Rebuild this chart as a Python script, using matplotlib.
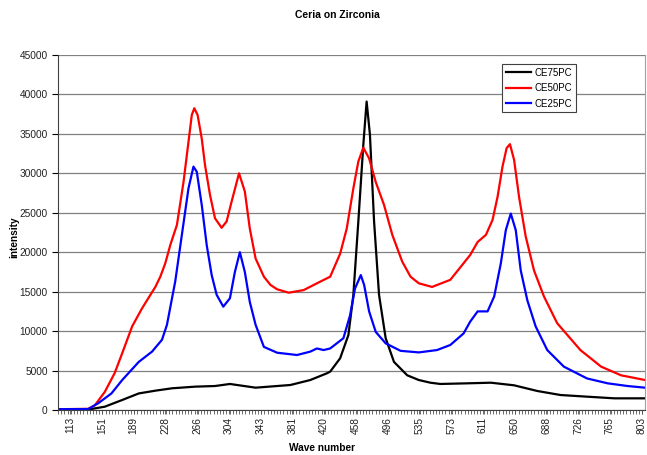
import numpy as np
import matplotlib
matplotlib.use("Agg")
import matplotlib.pyplot as plt

plt.rcParams['font.family'] = ['Liberation Sans', 'DejaVu Sans']

# values (wave number, intensity)
ce75_x = [99, 135, 155, 176, 196, 216, 236, 264, 288, 306, 337, 379, 403, 423,
          427, 439, 449, 455, 461, 467, 471, 475, 480, 486, 494, 504, 520, 534,
          548, 560, 592, 621, 649, 677, 705, 737, 770, 807]
ce75_y = [50, 60, 420, 1270, 2100, 2450, 2750, 2960, 3040, 3300, 2830, 3170, 3800, 4650,
          4860, 6550, 9500, 14600, 23900, 33600, 39100, 34900, 23900, 14600, 9100, 6100, 4400, 3800,
          3460, 3300, 3380, 3460, 3130, 2410, 1900, 1690, 1480, 1480]

ce50_x = [99, 135, 143, 155, 167, 176, 188, 200, 216, 222, 228, 234, 242, 250,
          256, 260, 263, 267, 272, 276, 282, 288, 296, 302, 308, 317, 324, 330,
          337, 347, 355, 363, 377, 395, 411, 427, 439, 447, 455, 461, 467, 474,
          482, 492, 502, 514, 524, 534, 550, 572, 588, 596, 605, 615, 623, 629,
          635, 640, 644, 649, 655, 663, 673, 685, 701, 729, 754, 778, 807]
ce50_y = [100, 150, 600, 2300, 4700, 7200, 10600, 12900, 15600, 16900, 18600, 20900, 23450, 28900,
          34000, 37400, 38250, 37400, 34400, 31000, 27250, 24300, 23100, 23900, 26400, 30000, 27700, 23000,
          19200, 16900, 15850, 15300, 14870, 15200, 16060, 16900, 19800, 23000, 28100, 31500, 33250, 31900,
          28900, 26000, 22200, 18800, 16900, 16060, 15600, 16500, 18600, 19650, 21300, 22200, 24100, 27000,
          30850, 33200, 33700, 31700, 27000, 22000, 17700, 14400, 11000, 7600, 5500, 4400, 3800]

ce25_x = [99, 135, 147, 163, 176, 196, 212, 224, 230, 240, 248, 256, 262, 266,
          272, 278, 284, 290, 298, 306, 312, 318, 324, 330, 337, 347, 363, 387,
          403, 411, 419, 427, 443, 451, 457, 464, 468, 474, 482, 494, 512, 534,
          556, 572, 588, 596, 605, 617, 625, 633, 639, 645, 651, 657, 665, 675,
          689, 709, 737, 762, 786, 807]
ce25_y = [100, 120, 850, 2100, 3800, 6100, 7400, 8900, 10800, 16300, 22200, 28100, 30850, 30200,
          26000, 20900, 17100, 14600, 13100, 14160, 17500, 20000, 17500, 13700, 10800, 8000, 7260, 6970,
          7400, 7800, 7600, 7800, 9100, 12000, 15400, 17100, 15850, 12500, 9900, 8450, 7500, 7300,
          7600, 8240, 9700, 11200, 12500, 12500, 14400, 18600, 22800, 24900, 22800, 17700, 13900, 10600,
          7600, 5500, 4000, 3380, 3040, 2830]

tick_labels = ['113', '151', '189', '228', '266', '304', '343', '381', '420', '458',
               '496', '535', '573', '611', '650', '688', '726', '765', '803']

fig = plt.figure(figsize=(6.47, 4.55), dpi=100)
ax = fig.add_axes([58 / 647, 45 / 455, 587 / 647, 355 / 455])

ax.plot(ce75_x, ce75_y, color='black', lw=1.6, label='CE75PC')
ax.plot(ce50_x, ce50_y, color='#ff0000', lw=1.6, label='CE50PC')
ax.plot(ce25_x, ce25_y, color='#0000ff', lw=1.6, label='CE25PC')

ax.set_xlim(98.5, 807)
ax.set_ylim(0, 45000)
ax.set_yticks(np.arange(0, 45001, 5000))
ax.yaxis.grid(True, color='#808080', lw=0.9)
ax.set_axisbelow(True)

xt = np.linspace(113, 803, len(tick_labels))
ax.set_xticks(xt)
ax.set_xticklabels(tick_labels, rotation=90, fontsize=7.3, color='#222222')
ax.set_xticks(np.arange(98.5, 807, 38.333 / 10), minor=True)
ax.tick_params(axis='x', which='both', direction='out', length=3, width=0.6, color='#555555', pad=2)
ax.tick_params(axis='y', labelsize=7.3, length=4, width=0.8, labelcolor='#222222')

ax.spines['top'].set_visible(False)
ax.spines['right'].set_color('#a0a0a0')
ax.spines['left'].set_color('#404040')
ax.spines['bottom'].set_color('#404040')

leg = ax.legend(loc='upper left', bbox_to_anchor=(444 / 587, 346 / 355), fontsize=7,
                frameon=True, fancybox=False, edgecolor='#404040', framealpha=1,
                handlelength=2.6, handletextpad=0.3, borderpad=0.4, labelspacing=0.55,
                borderaxespad=0)
leg.get_frame().set_linewidth(0.8)

fig.text(337 / 647, 1 - 15 / 455, 'Ceria on Zirconia', ha='center', va='center',
         fontsize=7.5, fontweight='bold')
fig.text(322 / 647, 1 - 448 / 455, 'Wave number', ha='center', va='center',
         fontsize=7.3, fontweight='bold')
fig.text(14 / 647, 1 - 237 / 455, 'intensity', ha='center', va='center',
         rotation=90, fontsize=7.3, fontweight='bold')

fig.savefig('out.png', dpi=100)
